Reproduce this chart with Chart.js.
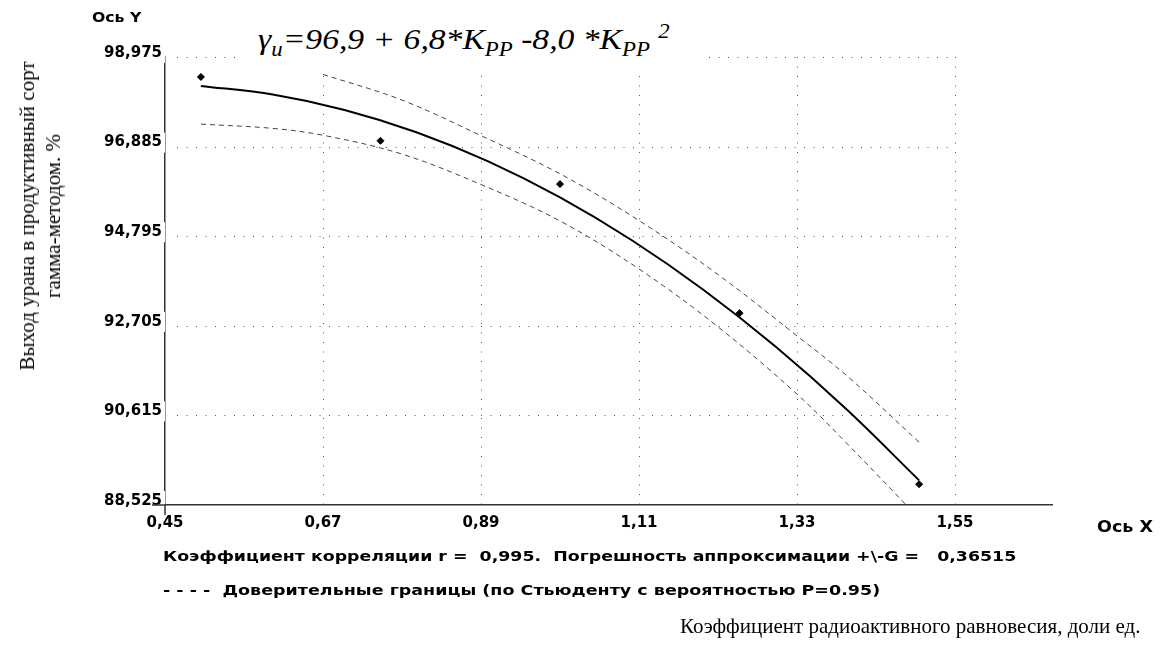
<!DOCTYPE html>
<html><head><meta charset="utf-8">
<script src="https://cdn.jsdelivr.net/npm/chart.js@4/dist/chart.umd.min.js"></script>
<style>
body{margin:0;background:#fff;}
#wrap{position:relative;width:1161px;height:646px;overflow:hidden;background:#fff;}
#c{position:absolute;left:0;top:0;}
.t{position:absolute;white-space:nowrap;color:#000;transform-origin:0 50%;}
.sans{font-family:"DejaVu Sans","Liberation Sans",sans-serif;font-weight:bold;}
.serif{font-family:"Liberation Serif","Times New Roman",serif;}
#formula sub,#formula sup{font-size:68%;}
#fbox{position:absolute;left:243px;top:0;width:465px;height:74px;background:#fff;}
</style></head><body>
<div id="wrap">
<canvas id="c" width="1161" height="646"></canvas>
<div class="t sans" style="left:92px;top:9px;font-size:14px;transform:scaleX(1.12);">Ось Y</div>
<div id="fbox"></div>
<div class="t serif" id="formula" style="left:258px;top:14px;font-size:30px;font-style:italic;line-height:34px;transform:scaleX(1.12);">γ<sub>u</sub>=96,9 + 6,8*K<sub>PP</sub> -8,0 *K<sub>PP</sub> <sup>2</sup></div>
<div class="t serif" style="left:40px;top:216px;transform:translate(-50%,-50%) rotate(-90deg);transform-origin:50% 50%;text-align:center;font-size:21px;line-height:26px;">Выход урана в продуктивный сорт<br>гамма-методом. %</div>
<div class="t sans" style="left:1097px;top:518px;font-size:15px;transform:scaleX(1.17);">Ось X</div>
<div class="t sans" style="left:163px;top:548px;font-size:14px;transform:scaleX(1.24);">Коэффициент корреляции r =&nbsp; 0,995.&nbsp; Погрешность аппроксимации +\-G =&nbsp;&nbsp; 0,36515</div>
<div class="t sans" style="left:163px;top:582px;font-size:14px;transform:scaleX(1.25);">- - - -&nbsp; Доверительные границы (по Стьюденту с вероятностью Р=0.95)</div>
<div class="t serif" style="left:680px;top:614px;font-size:21px;">Коэффициент радиоактивного равновесия, доли ед.</div>
</div>
<script>
// ---- data ----
const xTickValues = [0.45, 0.67, 0.89, 1.11, 1.33, 1.55];
const yTickValues = [88.525, 90.615, 92.705, 94.795, 96.885, 98.975];
const obsX = [0.50, 0.75, 1.00, 1.25, 1.50];
const obsY = [98.51, 97.02, 96.01, 93.00, 89.01];
const fitX = [0.50, 0.60, 0.70, 0.80, 0.90, 1.00, 1.10, 1.20, 1.30, 1.40, 1.50];
const fitY = [98.30, 98.10, 97.74, 97.22, 96.54, 95.70, 94.70, 93.54, 92.22, 90.74, 89.10];
const upperX = [0.67, 0.78, 0.89, 1.00, 1.11, 1.22, 1.33, 1.40, 1.50];
const upperY = [98.57, 97.97, 97.14, 96.25, 95.16, 93.90, 92.47, 91.53, 89.99];
const lowerX = [0.50, 0.60, 0.67, 0.78, 0.89, 1.00, 1.11, 1.22, 1.33, 1.40, 1.50];
const lowerY = [97.41, 97.31, 97.15, 96.71, 96.00, 95.15, 94.03, 92.68, 91.11, 89.95, 88.21];
const xAxisMin = 0.45, xAxisMax = 1.685;

const pts = (xs, ys) => xs.map((x, i) => ({x, y: ys[i]}));
const fmt = (v, d) => Number(v).toFixed(d).replace('.', ',');

const dotGrid = {
  id: 'dotGrid',
  beforeDatasetsDraw(chart) {
    const {ctx, chartArea: a, scales: {x, y}} = chart;
    ctx.save();
    ctx.strokeStyle = '#555';
    ctx.lineWidth = 1;
    ctx.setLineDash([1, 8.5]);
    const xl = x.getPixelForValue(xTickValues[0]) + 12;
    const xr = x.getPixelForValue(xTickValues[xTickValues.length - 1]);
    yTickValues.slice(1).forEach(v => {
      const py = Math.round(y.getPixelForValue(v)) + 0.5;
      ctx.beginPath(); ctx.moveTo(xl, py); ctx.lineTo(xr, py); ctx.stroke();
    });
    xTickValues.slice(1).forEach(v => {
      const px = Math.round(x.getPixelForValue(v)) + 0.5;
      ctx.beginPath(); ctx.moveTo(px, a.top); ctx.lineTo(px, a.bottom); ctx.stroke();
    });
    ctx.setLineDash([]);
    ctx.strokeStyle = '#333';
    ctx.lineWidth = 1.5;
    ctx.beginPath(); ctx.moveTo(a.left - 13, a.bottom); ctx.lineTo(a.left, a.bottom); ctx.stroke();
    ctx.beginPath(); ctx.moveTo(a.left, a.bottom); ctx.lineTo(a.left, a.bottom + 10); ctx.stroke();
    ctx.restore();
  }
};

new Chart(document.getElementById('c'), {
  type: 'scatter',
  data: {
    datasets: [
      {data: pts(fitX, fitY), showLine: true, borderColor: '#000', borderWidth: 2, pointRadius: 0, tension: 0.35, order: 2},
      {data: pts(upperX, upperY), showLine: true, borderColor: '#444', borderWidth: 1, borderDash: [5, 4], pointRadius: 0, tension: 0.35, order: 3},
      {data: pts(lowerX, lowerY), showLine: true, borderColor: '#444', borderWidth: 1, borderDash: [5, 4], pointRadius: 0, tension: 0.35, order: 3},
      {data: pts(obsX, obsY), showLine: false, pointStyle: 'rectRot', pointRadius: 3.5, backgroundColor: '#000', borderColor: '#000', borderWidth: 1, order: 1}
    ]
  },
  options: {
    responsive: false,
    animation: false,
    events: [],
    layout: {padding: {left: 0, right: 109, top: 57, bottom: 0}},
    plugins: {legend: {display: false}, tooltip: {enabled: false}},
    scales: {
      x: {
        type: 'linear', min: xAxisMin, max: xAxisMax,
        afterBuildTicks: s => { s.ticks = xTickValues.map(v => ({value: v})); },
        afterFit: s => { s.height = 141; },
        grid: {display: false, drawTicks: false},
        border: {display: true, color: '#333', width: 1.5},
        ticks: {autoSkip: false, maxRotation: 0, padding: 9, color: '#000',
          font: {family: 'DejaVu Sans', size: 15, weight: 'bold'},
          callback: v => fmt(v, 2)}
      },
      y: {
        type: 'linear', min: yTickValues[0], max: yTickValues[yTickValues.length - 1],
        afterBuildTicks: s => { s.ticks = yTickValues.map(v => ({value: v})); },
        afterFit: s => { s.width = 165; },
        grid: {display: false, drawTicks: false},
        border: {display: true, color: '#333', width: 1.5},
        ticks: {autoSkip: false, padding: 3, color: '#000', labelOffset: -4,
          showLabelBackdrop: true, backdropColor: '#fff',
          backdropPadding: {top: 1, bottom: 1, left: 2, right: 4},
          font: {family: 'DejaVu Sans', size: 15, weight: 'bold'},
          callback: v => fmt(v, 3)}
      }
    }
  },
  plugins: [dotGrid]
});
</script>
</body></html>
